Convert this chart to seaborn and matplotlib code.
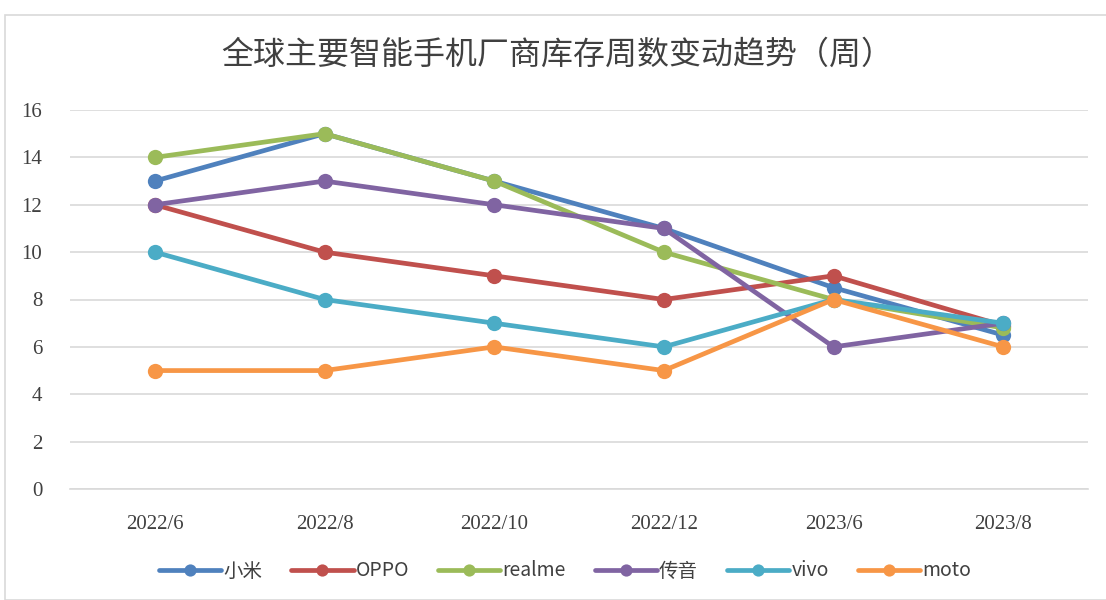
import pandas as pd
import numpy as np
import matplotlib.pyplot as plt
import seaborn as sns
from matplotlib.patches import Rectangle

sns.set_theme(style="white")
plt.rcParams['font.family'] = ['Noto Sans CJK SC', 'DejaVu Sans']

# data
months = ["2022/6", "2022/8", "2022/10", "2022/12", "2023/6", "2023/8"]
xiaomi = [13, 15, 13, 11, 8.5, 6.5]
oppo = [12, 10, 9, 8, 9, 6.9]
realme = [14, 15, 13, 10, 8, 6.8]
transsion = [12, 13, 12, 11, 6, 7]
vivo = [10, 8, 7, 6, 8, 7]
moto = [5, 5, 6, 5, 8, 6]

names = ["小米", "OPPO", "realme", "传音", "vivo", "moto"]
series = [xiaomi, oppo, realme, transsion, vivo, moto]
colors = ["#4F81BD", "#C0504D", "#9BBB59", "#8064A2", "#4BACC6", "#F79646"]

df = pd.DataFrame({
    "month": months * len(names),
    "value": [v for s in series for v in s],
    "brand": [n for n in names for _ in months],
})

fig = plt.figure(figsize=(11.06, 6), dpi=100)
ax = fig.add_axes([70 / 1106, 1 - 489 / 600, (1088 - 70) / 1106, (489 - 110) / 600])

sns.lineplot(data=df, x="month", y="value", hue="brand", hue_order=names,
             palette=colors, marker="o", markersize=11, markeredgewidth=0,
             linewidth=3.4, ax=ax, legend=True, sort=False)

ax.set_ylim(0, 16)
ax.set_xlim(-0.5, 5.5)
ax.set_yticks(range(0, 17, 2))
ax.yaxis.grid(True, color="#D9D9D9", linewidth=1.2)
ax.xaxis.grid(False)
for s in ["top", "right", "left"]:
    ax.spines[s].set_visible(False)
ax.spines["bottom"].set_color("#D9D9D9")
ax.spines["bottom"].set_linewidth(1.2)
ax.set_xlabel("")
ax.set_ylabel("")
ax.tick_params(axis="both", length=0, labelsize=15, labelcolor="#404040")
ax.tick_params(axis="x", pad=19)
ax.tick_params(axis="y", pad=20)
for lab in ax.get_xticklabels() + ax.get_yticklabels():
    lab.set_fontfamily(["Liberation Serif", "DejaVu Serif"])

handles, labels = ax.get_legend_handles_labels()
ax.get_legend().remove()
fig.legend(handles, labels, loc="center", bbox_to_anchor=(565 / 1106, 1 - 571 / 600),
           ncol=6, frameon=False, fontsize=14, handlelength=3.2, columnspacing=1.5,
           handletextpad=0.1, labelcolor="#404040", markerscale=0.8)

fig.text(557 / 1106, 1 - 55 / 600, "全球主要智能手机厂商库存周数变动趋势（周）",
         ha="center", va="center", fontsize=23, color="#404040")

fig.patches.append(Rectangle((5 / 1106, 0), 1.1, 1 - 15 / 600, transform=fig.transFigure,
                             fill=False, edgecolor="#D9D9D9", linewidth=1.2))

fig.savefig("out.png", dpi=100)
